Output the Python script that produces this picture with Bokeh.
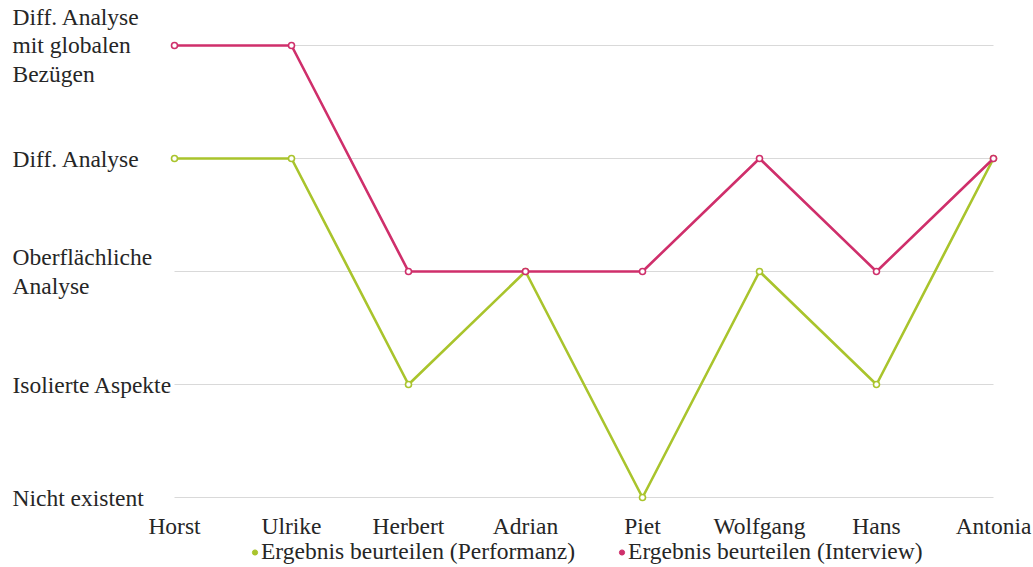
from bokeh.plotting import figure
from bokeh.models import Range1d, Legend, LegendItem, ColumnDataSource
from bokeh.core.properties import value
from bokeh.embed import file_html
from bokeh.resources import INLINE

names = ["Horst", "Ulrike", "Herbert", "Adrian", "Piet", "Wolfgang", "Hans", "Antonia"]
levels = ["Nicht existent", "Isolierte Aspekte", "Oberflächliche\nAnalyse",
          "Diff. Analyse", "Diff. Analyse\nmit globalen\nBezügen"]
performanz = [3, 3, 1, 2, 0, 2, 1, 3]
interview = [4, 4, 2, 2, 2, 3, 2, 3]
series_names = ["Ergebnis beurteilen (Performanz)", "Ergebnis beurteilen (Interview)"]

GREEN = "#a9c42c"
PINK = "#cf2f6b"
GRID = "#d9d9d9"
TEXT = "#262626"
FONT = "Liberation Serif"
FS = "23.5px"

W, H = 1033, 567
xs = list(range(len(names)))
ys = list(range(len(levels)))

# frame fills the whole canvas; scales put Horst..Antonia and the 5 levels in place
px_x = 117.0
px_y = 113.0
x0 = -174 / px_x
x1 = (len(names) - 1) + (W - 993) / px_x
y1 = (len(levels) - 1) + 45 / px_y
y0 = -(H - 497) / px_y

p = figure(width=W, height=H, output_backend="svg", toolbar_location=None,
           x_range=Range1d(x0, x1), y_range=Range1d(y0, y1),
           min_border=0)
p.outline_line_color = None
p.axis.visible = False
p.grid.visible = False

# horizontal grid lines at each level, from first to last person
p.segment(x0=[0] * len(ys), x1=[len(names) - 1] * len(ys), y0=ys, y1=ys,
          line_color=GRID, line_width=1.2)

src_p = ColumnDataSource(dict(x=xs, y=performanz))
src_i = ColumnDataSource(dict(x=xs, y=interview))
for src, col in [(src_p, GREEN), (src_i, PINK)]:
    p.line("x", "y", source=src, line_color=col, line_width=2.6)
    p.scatter("x", "y", source=src, size=6, fill_color="white", line_color=col, line_width=1.6)

# category labels (x) below the lowest level
p.text(x=xs, y=[-28 / px_y] * len(xs), text=names, text_font=value(FONT),
       text_font_size=value(FS), text_color=TEXT, text_align="center", text_baseline="middle")

# level labels (y), left aligned at the left edge
p.text(x=[(12 - 174) / px_x] * len(ys), y=ys, text=levels, text_font=value(FONT),
       text_font_size=value(FS), text_color=TEXT, text_align="left", text_baseline="middle",
       text_line_height=1.1)

# legend proxies
nan = float("nan")
leg_p = p.scatter(x=[nan], y=[nan], size=7, fill_color=GREEN, line_color=GREEN)
leg_i = p.scatter(x=[nan], y=[nan], size=7, fill_color=PINK, line_color=PINK)
legend = Legend(items=[LegendItem(label=series_names[0], renderers=[leg_p]),
                       LegendItem(label=series_names[1], renderers=[leg_i])],
                orientation="horizontal", location=(248, 2),
                label_text_font=FONT, label_text_font_size=FS, label_text_color=TEXT,
                glyph_width=13, glyph_height=22, label_standoff=0, spacing=40,
                padding=0, margin=0, border_line_color=None, background_fill_alpha=0)
p.add_layout(legend)

open("out.html", "w").write(file_html(p, INLINE))
